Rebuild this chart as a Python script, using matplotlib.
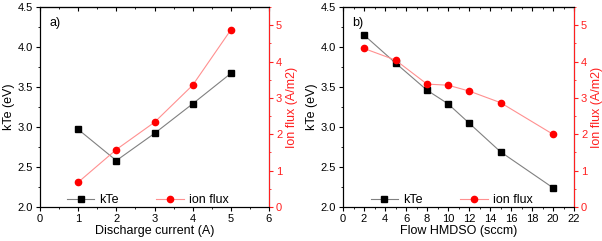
"""Two-panel kTe / ion flux figure."""

import matplotlib

matplotlib.use("Agg")
import matplotlib.pyplot as plt
from matplotlib.ticker import MultipleLocator, NullFormatter

plt.rcParams["font.family"] = ["Liberation Sans", "DejaVu Sans"]

current = [1, 2, 3, 4, 5]
kte_current = [2.97, 2.58, 2.92, 3.29, 3.67]
flux_current = [0.68, 1.58, 2.33, 3.35, 4.87]

flow = [2, 5, 8, 10, 12, 15, 20]
kte_flow = [4.15, 3.80, 3.46, 3.29, 3.05, 2.69, 2.24]
flux_flow = [4.36, 4.04, 3.38, 3.35, 3.19, 2.87, 2.00]

RED = "#ff2020"

fig = plt.figure(figsize=(6.02, 2.41), dpi=100)
panels = [
    (current, kte_current, flux_current, "Discharge current (A)", "a)", (0, 6), 1, 0.5,
     [40 / 602, 269 / 602]),
    (flow, kte_flow, flux_flow, "Flow HMDSO (sccm)", "b)", (0, 22), 2, 1,
     [343 / 602, 574 / 602]),
]

for x, kte, flux, xlabel, tag, xlim, xmaj, xmin, (l, r) in panels:
    ax = fig.add_axes([l, 34 / 241, r - l, 200 / 241])
    ax2 = ax.twinx()

    (h1,) = ax.plot(x, kte, color="#808080", lw=0.8, marker="s", ms=4,
                    mfc="black", mec="black", label="kTe")
    (h2,) = ax2.plot(x, flux, color="#ff9090", lw=0.8, marker="o", ms=4.5,
                     mfc="red", mec="red", label="ion flux")

    ax.set_xlim(*xlim)
    ax.set_ylim(2.0, 4.5)
    ax2.set_ylim(0, 5.5)
    ax.xaxis.set_major_locator(MultipleLocator(xmaj))
    ax.xaxis.set_minor_locator(MultipleLocator(xmin))
    ax.yaxis.set_major_locator(MultipleLocator(0.5))
    ax.yaxis.set_minor_locator(MultipleLocator(0.25))
    ax2.yaxis.set_major_locator(MultipleLocator(1))
    ax2.yaxis.set_minor_locator(MultipleLocator(0.5))
    ax.yaxis.set_major_formatter(plt.FormatStrFormatter("%.1f"))

    ax.tick_params(which="both", direction="out", labelsize=8, pad=2)
    ax.tick_params(which="major", length=3)
    ax.tick_params(which="minor", length=1.5)
    ax2.tick_params(which="both", direction="out", colors=RED, labelsize=8, pad=2)
    ax2.tick_params(which="major", length=3)
    ax2.tick_params(which="minor", length=1.5)
    ax2.spines["right"].set_color(RED)

    # top axis: mirrored ticks pointing inward, no labels
    top = ax.secondary_xaxis("top")
    top.xaxis.set_major_locator(MultipleLocator(xmaj))
    top.xaxis.set_minor_locator(MultipleLocator(xmin))
    top.xaxis.set_major_formatter(NullFormatter())
    top.tick_params(which="both", direction="in")
    top.tick_params(which="major", length=3)
    top.tick_params(which="minor", length=1.5)

    ax.set_xlabel(xlabel, fontsize=9, labelpad=1)
    ax.set_ylabel("kTe (eV)", fontsize=9, labelpad=2)
    ax2.set_ylabel("Ion flux (A/m2)", fontsize=9, color=RED, labelpad=3)
    ax.text(0.04, 0.95, tag, transform=ax.transAxes, fontsize=9, va="top")

    ax2.legend([h1, h2], ["kTe", "ion flux"], loc="lower center", ncol=2,
               frameon=False, fontsize=9, handlelength=2.2, handletextpad=0.4,
               columnspacing=3.0, bbox_to_anchor=(0.47, -0.02), borderaxespad=0)

fig.savefig("out.png", dpi=100)
